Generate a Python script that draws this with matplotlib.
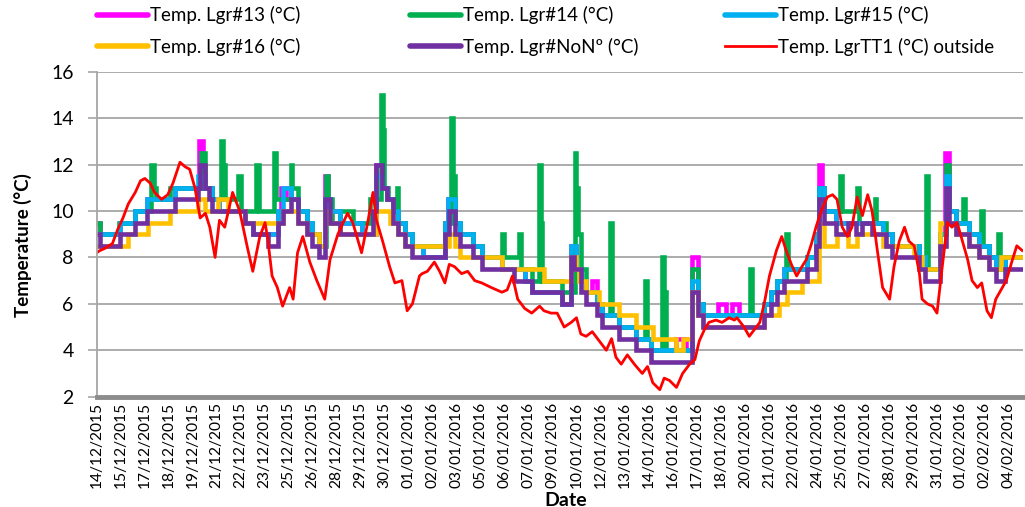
import numpy as np
import matplotlib
matplotlib.use("Agg")
import matplotlib.pyplot as plt
from matplotlib.lines import Line2D

plt.rcParams['font.family'] = ['Lato', 'DejaVu Sans']

# x values are days since the first label (14/12/2015)
tick_labels = [
    "14/12/2015", "15/12/2015", "17/12/2015", "18/12/2015", "19/12/2015",
    "21/12/2015", "22/12/2015", "23/12/2015", "25/12/2015", "26/12/2015",
    "28/12/2015", "29/12/2015", "30/12/2015", "01/01/2016", "02/01/2016",
    "03/01/2016", "05/01/2016", "06/01/2016", "07/01/2016", "09/01/2016",
    "10/01/2016", "12/01/2016", "13/01/2016", "14/01/2016", "16/01/2016",
    "17/01/2016", "18/01/2016", "20/01/2016", "21/01/2016", "22/01/2016",
    "24/01/2016", "25/01/2016", "27/01/2016", "28/01/2016", "29/01/2016",
    "31/01/2016", "01/02/2016", "02/02/2016", "04/02/2016",
]

# logger readings (0.5 degC resolution) as (day, temp) step points
lgr13 = [(0.0, 9.5), (0.2, 9.0), (1.33, 9.5), (2.2, 10.0), (2.85, 10.5), (4.45, 11.0),
         (5.85, 13.0), (6.05, 11.5), (6.15, 11.0), (6.55, 10.5), (7.0, 10.0), (8.45, 9.5),
         (8.9, 9.0), (10.35, 10.0), (10.5, 11.0), (10.8, 10.5), (11.45, 10.0), (12.0, 9.5),
         (12.3, 9.0), (12.7, 8.5), (13.0, 11.5), (13.2, 10.0), (13.85, 9.5), (15.1, 9.0),
         (15.95, 12.0), (16.25, 11.0), (16.55, 10.5), (16.9, 10.0), (17.15, 9.5), (17.55, 9.0),
         (18.0, 8.5), (18.6, 8.0), (19.85, 9.5), (20.0, 10.5), (20.4, 9.5), (20.7, 9.0),
         (21.45, 8.5), (21.95, 8.0), (23.1, 7.5), (24.4, 7.0), (24.8, 6.5), (26.5, 6.0),
         (27.05, 8.5), (27.3, 7.5), (27.6, 7.0), (27.9, 6.5), (28.25, 7.0), (28.5, 6.0),
         (28.8, 5.5), (29.8, 5.0), (30.75, 4.5), (31.6, 4.0), (33.0, 4.5), (33.6, 4.0),
         (33.95, 8.0), (34.25, 6.0), (34.55, 5.5), (35.4, 6.0), (35.85, 5.5), (36.2, 6.0),
         (36.6, 5.5), (38.05, 6.0), (38.45, 6.5), (38.8, 7.0), (39.2, 7.5), (40.5, 8.0),
         (41.0, 9.0), (41.2, 12.0), (41.35, 11.0), (41.45, 10.0), (42.15, 9.5), (44.8, 9.0),
         (45.35, 8.5), (46.9, 8.0), (47.2, 7.5), (48.1, 9.0), (48.35, 12.5), (48.6, 10.0),
         (49.0, 9.5), (49.75, 9.0), (50.3, 8.5), (50.85, 8.0), (51.25, 7.5), (51.75, 8.0),
         (52.8, 8.0)]

lgr14 = [(0.0, 9.5), (0.2, 9.0), (1.3, 9.5), (2.2, 10.0), (3.1, 12.0), (3.25, 11.0),
         (3.4, 10.5), (4.2, 11.0), (5.95, 12.5), (6.15, 11.0), (6.55, 10.5), (7.1, 13.0),
         (7.2, 12.0), (7.3, 10.5), (8.05, 11.5), (8.2, 10.0), (9.1, 12.0), (9.25, 10.0),
         (10.1, 12.5), (10.25, 10.5), (11.05, 12.0), (11.15, 11.0), (11.45, 10.0), (12.0, 9.5),
         (12.3, 9.0), (12.7, 8.5), (13.05, 11.5), (13.2, 10.5), (13.4, 9.5), (13.85, 10.0),
         (14.6, 9.5), (15.6, 10.5), (16.2, 15.0), (16.3, 13.5), (16.4, 11.0), (16.6, 10.5),
         (16.9, 10.0), (17.1, 11.0), (17.2, 9.5), (17.55, 9.0), (18.0, 8.5), (19.85, 9.5),
         (20.2, 14.0), (20.3, 11.5), (20.4, 9.5), (20.7, 9.0), (21.45, 8.5), (21.95, 8.0),
         (23.1, 9.0), (23.2, 8.0), (24.1, 9.0), (24.2, 7.5), (24.8, 7.0), (25.2, 12.0),
         (25.3, 9.5), (25.4, 7.0), (26.5, 6.5), (27.25, 12.5), (27.35, 11.0), (27.45, 9.0),
         (27.6, 7.5), (27.9, 6.5), (28.5, 6.0), (28.8, 5.5), (29.25, 9.5), (29.35, 5.5),
         (29.8, 5.0), (30.75, 4.5), (31.25, 7.0), (31.35, 4.5), (31.6, 4.0), (32.25, 8.0),
         (32.35, 6.5), (32.45, 4.0), (33.95, 7.5), (34.25, 6.0), (34.55, 5.5), (37.25, 7.5),
         (37.35, 5.5), (38.05, 6.0), (38.45, 6.5), (38.8, 7.0), (39.3, 9.0), (39.4, 7.5),
         (40.5, 8.0), (41.0, 9.0), (41.2, 11.0), (41.45, 10.0), (42.4, 11.5), (42.5, 10.0),
         (43.35, 11.0), (43.45, 9.5), (44.35, 10.5), (44.45, 9.5), (45.0, 9.0), (45.35, 8.5),
         (46.9, 8.0), (47.3, 11.5), (47.4, 7.5), (48.1, 9.0), (48.4, 12.0), (48.6, 10.0),
         (49.0, 9.5), (49.4, 10.5), (49.5, 9.5), (49.75, 9.0), (50.3, 8.5), (50.4, 10.0),
         (50.5, 8.5), (50.85, 8.0), (51.4, 9.0), (51.5, 7.5), (51.75, 8.0), (52.8, 8.0)]

lgr15 = [(0.0, 9.0), (1.33, 9.5), (2.2, 10.0), (2.85, 10.5), (4.45, 11.0), (5.8, 11.5),
         (6.15, 11.0), (6.55, 10.5), (7.0, 10.0), (8.45, 9.5), (8.9, 9.0), (10.35, 10.0),
         (10.6, 11.0), (11.1, 10.5), (11.45, 10.0), (12.0, 9.5), (12.3, 9.0), (12.7, 8.5),
         (13.0, 10.5), (13.3, 10.0), (13.85, 9.5), (15.1, 9.0), (15.95, 11.5), (16.25, 11.0),
         (16.55, 10.5), (16.9, 10.0), (17.15, 9.5), (17.55, 9.0), (18.0, 8.5), (18.6, 8.0),
         (19.85, 9.5), (20.05, 10.5), (20.4, 9.5), (20.7, 9.0), (21.45, 8.5), (21.95, 8.0),
         (23.1, 7.5), (24.4, 7.0), (24.8, 6.5), (26.5, 6.0), (27.05, 8.5), (27.3, 7.5),
         (27.6, 7.0), (27.9, 6.5), (28.5, 6.0), (28.8, 5.5), (29.8, 5.0), (30.75, 4.5),
         (31.6, 4.0), (33.95, 7.0), (34.25, 6.0), (34.55, 5.5), (38.05, 6.0), (38.45, 6.5),
         (38.8, 7.0), (39.2, 7.5), (40.5, 8.0), (41.0, 9.0), (41.2, 11.0), (41.45, 10.0),
         (42.15, 9.5), (44.8, 9.0), (45.35, 8.5), (46.9, 8.0), (47.2, 7.5), (48.1, 9.0),
         (48.4, 11.5), (48.6, 10.0), (49.0, 9.5), (49.75, 9.0), (50.3, 8.5), (50.85, 8.0),
         (51.25, 7.5), (51.75, 8.0), (52.8, 8.0)]

lgr16 = [(0.0, 8.5), (1.8, 9.0), (2.9, 9.5), (4.2, 10.0), (5.8, 10.5), (6.2, 10.0),
         (6.9, 10.5), (7.5, 10.0), (8.45, 9.5), (10.6, 10.0), (11.45, 9.5), (12.0, 9.0),
         (12.7, 8.5), (13.0, 10.0), (13.3, 9.5), (13.85, 9.0), (15.95, 10.0), (16.7, 9.5),
         (17.15, 9.0), (17.55, 8.5), (20.1, 9.0), (20.4, 8.5), (20.7, 8.0), (23.1, 7.5),
         (25.5, 7.0), (27.05, 8.0), (27.3, 7.5), (27.5, 7.0), (27.9, 6.5), (28.65, 6.0),
         (29.8, 5.5), (30.75, 5.0), (31.7, 4.5), (33.05, 4.0), (33.4, 4.5), (33.95, 6.5),
         (34.25, 5.5), (34.55, 5.0), (38.05, 5.5), (38.9, 6.0), (39.35, 6.5), (40.2, 7.0),
         (41.2, 9.5), (41.45, 8.5), (42.2, 9.0), (42.8, 8.5), (43.35, 9.0), (44.8, 8.5),
         (46.6, 8.0), (47.05, 7.5), (48.1, 9.5), (49.0, 9.0), (49.75, 8.5), (50.3, 8.0),
         (50.85, 7.5), (51.55, 8.0), (52.8, 8.0)]

lgr_non = [(0.0, 9.0), (0.2, 8.5), (1.33, 9.0), (2.2, 9.5), (2.85, 10.0), (4.45, 10.5),
           (5.8, 11.0), (5.9, 12.0), (6.15, 11.0), (6.4, 10.5), (6.55, 10.0), (8.45, 9.5),
           (8.9, 9.0), (9.75, 8.5), (10.35, 9.5), (10.6, 10.0), (11.1, 10.5), (11.45, 9.5),
           (12.0, 9.0), (12.3, 8.5), (12.7, 8.0), (13.0, 10.5), (13.3, 9.5), (13.85, 9.0),
           (15.75, 10.0), (15.95, 12.0), (16.25, 11.0), (16.55, 10.5), (16.9, 9.5), (17.15, 9.0),
           (17.55, 8.5), (18.0, 8.0), (19.85, 9.0), (20.1, 10.0), (20.4, 9.0), (20.7, 8.5),
           (21.45, 8.0), (21.95, 7.5), (23.8, 7.0), (24.8, 6.5), (26.5, 6.0), (27.05, 8.0),
           (27.2, 7.5), (27.6, 6.5), (27.9, 6.0), (28.5, 5.5), (28.8, 5.0), (29.8, 4.5),
           (30.75, 4.0), (31.6, 3.5), (33.95, 6.5), (34.25, 5.5), (34.55, 5.0), (38.05, 5.5),
           (38.45, 6.0), (38.8, 6.5), (39.2, 7.0), (40.5, 7.5), (41.0, 8.5), (41.2, 10.5),
           (41.45, 9.5), (42.15, 9.0), (42.8, 9.5), (43.3, 9.0), (43.65, 9.5), (44.2, 9.0),
           (45.0, 8.5), (45.35, 8.0), (46.9, 7.5), (47.2, 7.0), (48.1, 8.5), (48.4, 11.0),
           (48.6, 9.5), (49.0, 9.0), (49.75, 8.5), (50.3, 8.0), (50.85, 7.5), (51.25, 7.0),
           (51.75, 7.5), (52.8, 7.5)]

# outside logger TT1, (day, temp)
tt1_outside = [
    (0.0, 8.2), (0.2, 8.3), (0.5, 8.4), (0.9, 8.6), (1.2, 9.2), (1.5, 9.7), (1.8, 10.3),
    (2.2, 10.8), (2.5, 11.3), (2.75, 11.4), (3.05, 11.2), (3.3, 10.8), (3.7, 10.5),
    (4.05, 10.7), (4.35, 11.2), (4.75, 12.1), (5.05, 11.9), (5.3, 11.8), (5.6, 11.0),
    (5.9, 9.7), (6.2, 9.9), (6.45, 9.3), (6.75, 8.0), (7.0, 9.6), (7.3, 9.3), (7.75, 10.8),
    (8.15, 10.0), (8.6, 8.4), (8.9, 7.4), (9.3, 8.9), (9.6, 9.5), (9.75, 8.8), (10.0, 7.2),
    (10.3, 6.7), (10.6, 5.9), (11.0, 6.7), (11.2, 6.2), (11.45, 8.2), (11.75, 8.9),
    (12.15, 7.8), (12.55, 7.0), (13.0, 6.2), (13.3, 7.9), (13.75, 9.0), (14.3, 9.9),
    (14.6, 9.5), (15.1, 8.2), (15.45, 9.5), (15.75, 10.8), (15.95, 9.6), (16.3, 8.7),
    (16.7, 7.6), (17.0, 6.9), (17.4, 7.0), (17.7, 5.7), (18.0, 6.0), (18.4, 7.2),
    (18.55, 7.3), (18.85, 7.4), (19.25, 7.8), (19.55, 7.4), (19.85, 6.9), (20.1, 7.7),
    (20.4, 7.6), (20.8, 7.3), (21.15, 7.4), (21.55, 7.0), (21.95, 6.9), (22.5, 6.7),
    (23.1, 6.5), (23.4, 6.6), (23.7, 7.2), (24.0, 6.2), (24.4, 5.8), (24.8, 5.6),
    (25.25, 5.9), (25.5, 5.7), (25.9, 5.6), (26.25, 5.6), (26.65, 5.0), (27.05, 5.2),
    (27.35, 5.4), (27.6, 4.7), (27.9, 4.6), (28.25, 4.8), (28.65, 4.4), (29.05, 4.0),
    (29.35, 4.5), (29.6, 3.7), (29.9, 3.4), (30.25, 3.8), (30.65, 3.4), (31.1, 3.0),
    (31.4, 3.3), (31.7, 2.6), (32.1, 2.3), (32.35, 2.8), (32.65, 2.7), (33.05, 2.4),
    (33.4, 3.0), (33.8, 3.4), (34.1, 3.6), (34.35, 4.4), (34.65, 4.9), (34.9, 5.2),
    (35.3, 5.3), (35.65, 5.2), (36.05, 5.4), (36.35, 5.3), (36.5, 5.4), (36.9, 5.0),
    (37.2, 4.6), (37.5, 4.9), (37.8, 5.2), (38.05, 6.0), (38.35, 7.2), (38.75, 8.3),
    (39.05, 8.9), (39.3, 8.3), (39.6, 7.7), (39.9, 7.2), (40.2, 7.6), (40.45, 7.9),
    (40.75, 8.6), (41.0, 9.3), (41.3, 10.0), (41.65, 10.6), (41.95, 10.7), (42.2, 10.5),
    (42.5, 9.3), (42.8, 8.9), (43.05, 9.3), (43.35, 10.6), (43.65, 9.8), (43.95, 10.7),
    (44.2, 10.0), (44.5, 8.3), (44.8, 6.7), (45.2, 6.2), (45.45, 7.6), (45.75, 8.7),
    (46.05, 9.3), (46.3, 8.7), (46.6, 8.5), (46.9, 7.3), (47.05, 6.2), (47.35, 6.0),
    (47.65, 5.9), (47.9, 5.6), (48.2, 7.6), (48.5, 9.5), (48.75, 9.3), (49.05, 9.5),
    (49.35, 8.7), (49.65, 7.9), (49.9, 7.0), (50.2, 6.7), (50.45, 6.9), (50.75, 5.7),
    (51.0, 5.4), (51.25, 6.2), (51.55, 6.6), (51.85, 7.0), (52.2, 7.9), (52.45, 8.5),
    (52.75, 8.3)]

series = [
    (lgr13, "Temp. Lgr#13 (°C)", "#FF00FF"),
    (lgr14, "Temp. Lgr#14 (°C)", "#00B050"),
    (lgr15, "Temp. Lgr#15 (°C)", "#00B0F0"),
    (lgr16, "Temp. Lgr#16 (°C)", "#FFC000"),
    (lgr_non, "Temp. Lgr#NoNº (°C)", "#7030A0"),
]

fig = plt.figure(figsize=(10.25, 5.07), dpi=100)
ax = fig.add_axes([0.0943, 0.2176, 0.9037, 0.641])

handles = {}
for pts, name, col in series:
    t, v = zip(*pts)
    ax.plot(t, v, drawstyle='steps-post', color=col, lw=3.3, solid_joinstyle='miter')
    handles[name] = Line2D([], [], color=col, lw=4, solid_capstyle='round')

t, v = zip(*tt1_outside)
red_name = "Temp. LgrTT1 (°C) outside"
ax.plot(t, v, color="#FF0000", lw=2.0)
handles[red_name] = Line2D([], [], color="#FF0000", lw=2.0)

ax.set_xlim(0, 52.8)
ax.set_ylim(2, 16)
tick_pos = np.linspace(0, 52, len(tick_labels))
ax.set_xticks(tick_pos)
ax.set_xticklabels(tick_labels, rotation=90, fontsize=11.2)
ax.set_yticks(range(2, 17, 2))
ax.tick_params(axis='y', labelsize=14, length=6.5, width=1.2, color='#A6A6A6', pad=10)
ax.tick_params(axis='x', length=0, pad=4)

ax.yaxis.grid(True, color='#A6A6A6', lw=1.3)
ax.set_axisbelow(True)
for s in ['top', 'right']:
    ax.spines[s].set_visible(False)
ax.spines['left'].set_color('#A6A6A6')
ax.spines['left'].set_linewidth(1.3)
ax.spines['bottom'].set_color('#8C8C8C')
ax.spines['bottom'].set_linewidth(3.5)

ax.set_ylabel("Temperature (°C)", fontsize=13.5, fontweight='bold')
ax.yaxis.set_label_coords(-0.07, 0.467)
ax.set_xlabel("Date", fontsize=14, fontweight='bold')
ax.xaxis.set_label_coords(0.506, -0.292)

# legend: three columns of two rows, laid out like the original
columns = [
    ["Temp. Lgr#13 (°C)", "Temp. Lgr#16 (°C)"],
    ["Temp. Lgr#14 (°C)", "Temp. Lgr#NoNº (°C)"],
    ["Temp. Lgr#15 (°C)", red_name],
]
col_x = [97, 410, 725]
for names, x in zip(columns, col_x):
    fig.legend([handles[n] for n in names], names, loc='upper left',
               bbox_to_anchor=(x / 1025, 1 - 6 / 507), frameon=False,
               fontsize=13.5, handlelength=2.7, handletextpad=0.12,
               borderpad=0, borderaxespad=0, labelspacing=0.72)

fig.savefig("out.png", dpi=100)
